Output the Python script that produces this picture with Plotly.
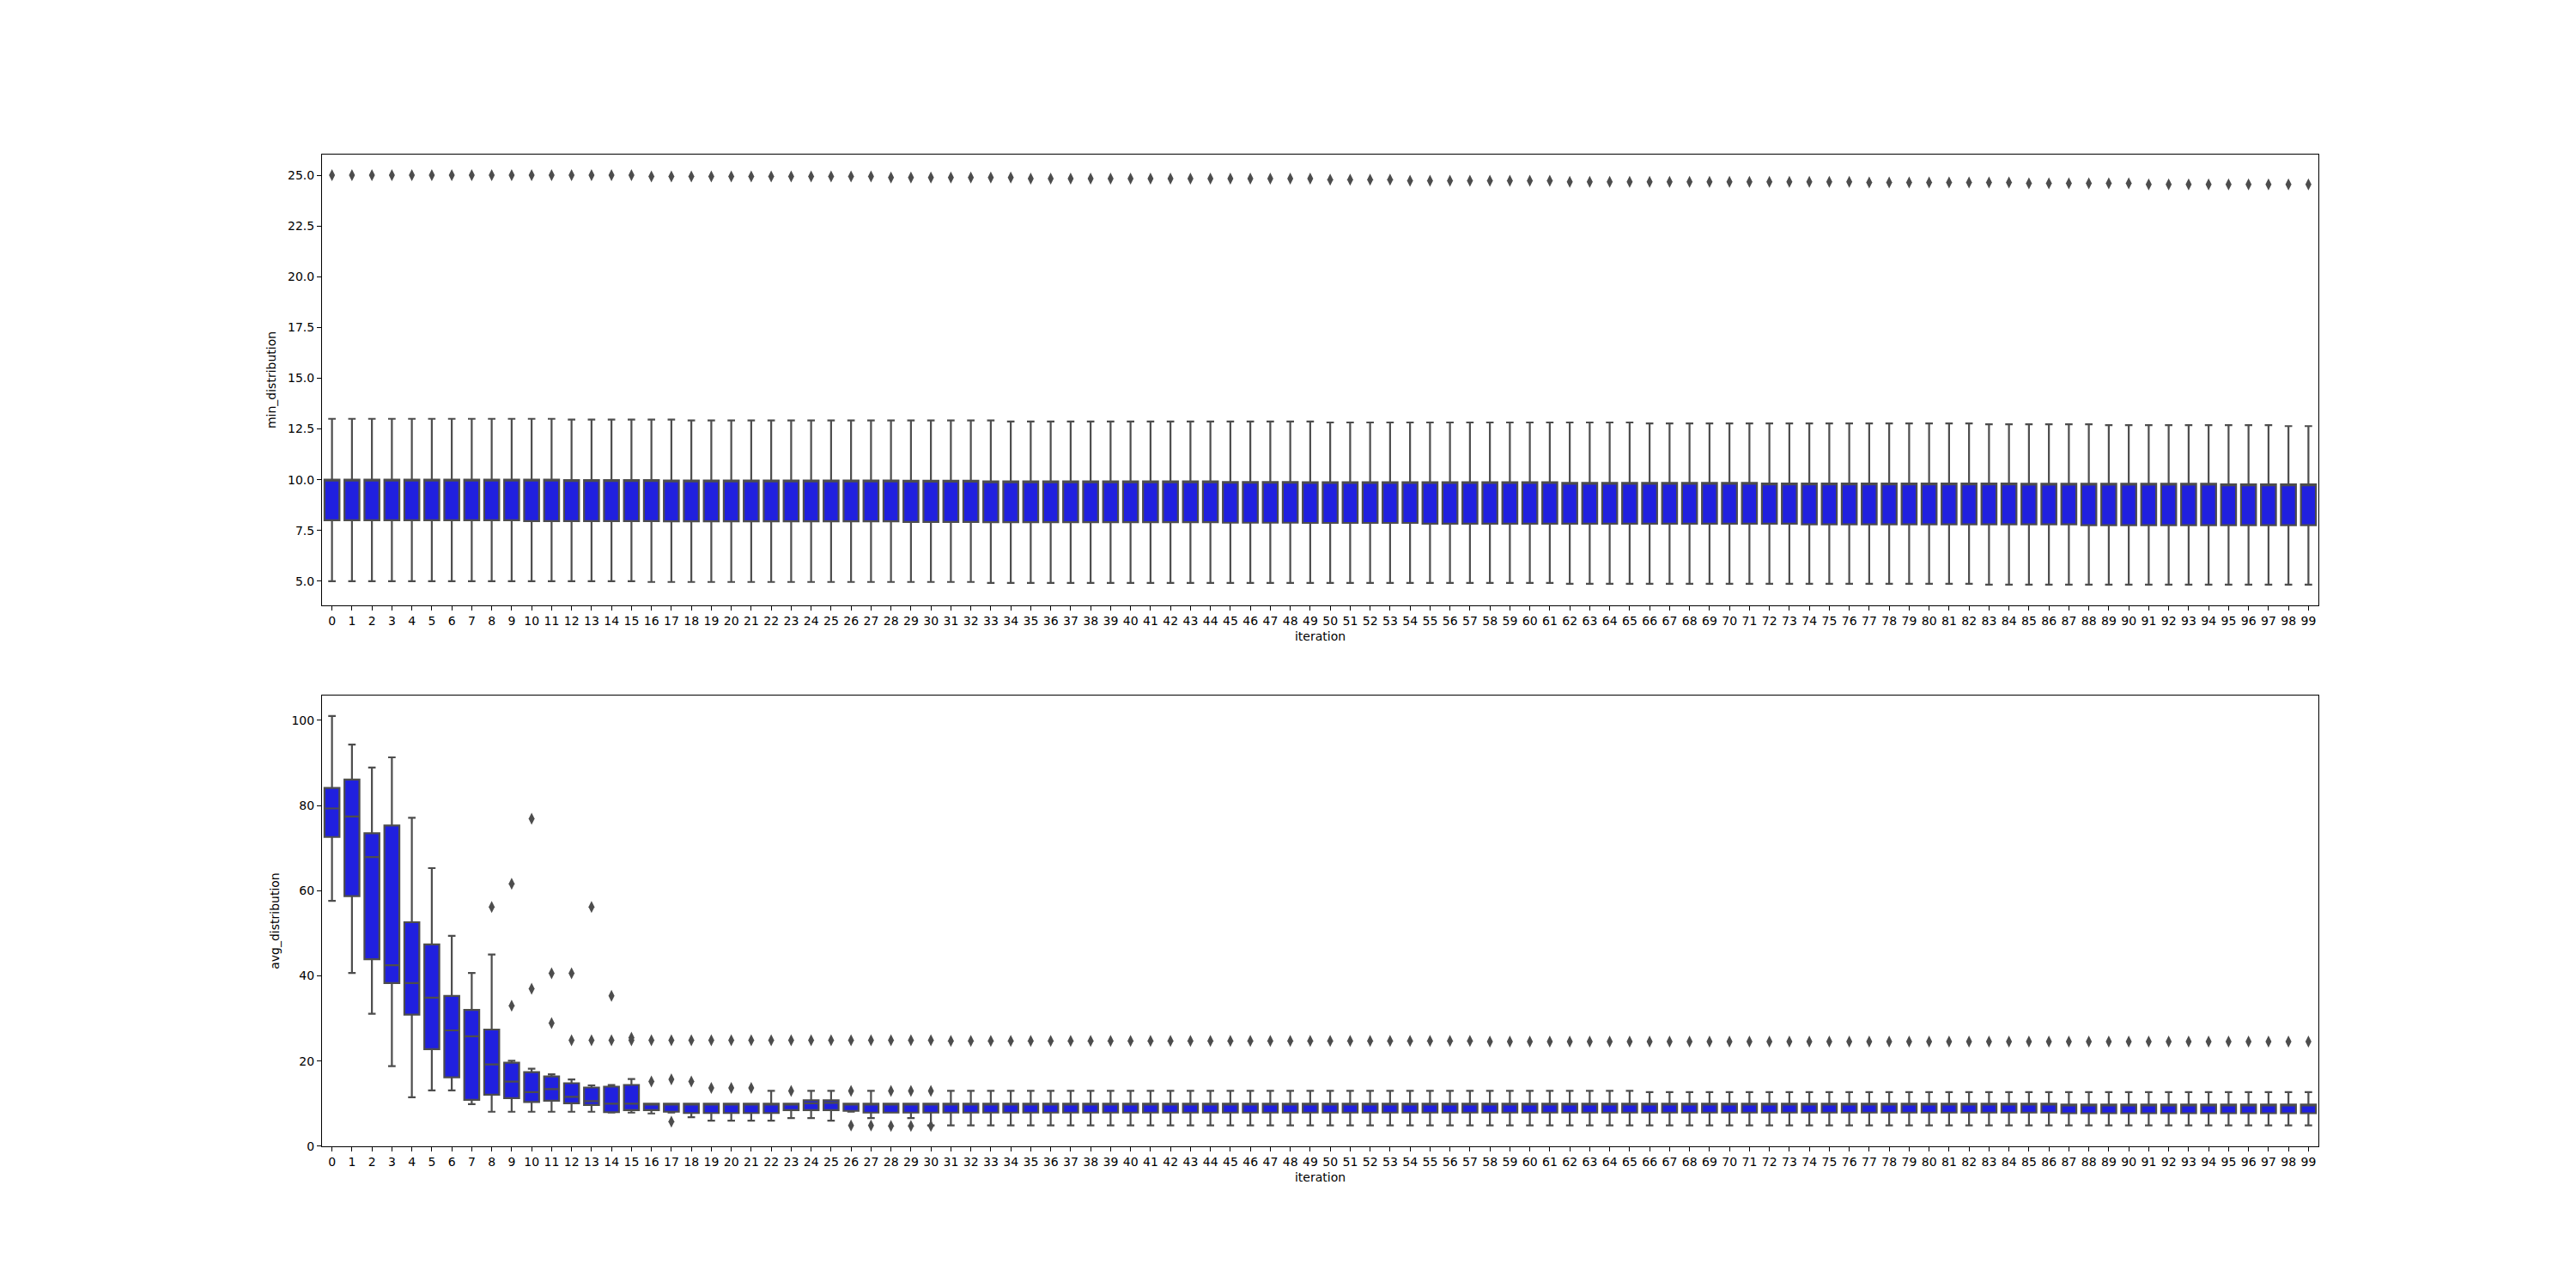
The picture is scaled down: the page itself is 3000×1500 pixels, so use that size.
import plotly.graph_objects as go

# ---------------- data ----------------
iterations = list(range(100))
tick_labels = [str(i) for i in iterations]

# top panel: min_distribution
min_q3 = [
    10.0, 10.0, 10.0, 10.0, 10.0, 10.0, 10.0, 10.0, 10.0, 10.0,
    10.0, 10.0, 9.98, 9.98, 9.98, 9.98, 9.98, 9.96, 9.96, 9.96,
    9.96, 9.96, 9.96, 9.96, 9.96, 9.96, 9.96, 9.96, 9.96, 9.95,
    9.95, 9.95, 9.95, 9.92, 9.92, 9.92, 9.92, 9.92, 9.92, 9.92,
    9.92, 9.92, 9.92, 9.92, 9.92, 9.89, 9.89, 9.89, 9.89, 9.88,
    9.88, 9.88, 9.88, 9.88, 9.88, 9.88, 9.88, 9.88, 9.88, 9.88,
    9.88, 9.88, 9.84, 9.84, 9.84, 9.84, 9.84, 9.84, 9.84, 9.84,
    9.84, 9.84, 9.81, 9.81, 9.81, 9.81, 9.81, 9.81, 9.81, 9.81,
    9.81, 9.81, 9.81, 9.81, 9.81, 9.80, 9.80, 9.80, 9.80, 9.80,
    9.80, 9.80, 9.80, 9.80, 9.80, 9.77, 9.77, 9.77, 9.77, 9.77,
]
min_median = list(min_q3)
min_q1 = [
    8.0, 8.0, 8.0, 8.0, 8.0, 8.0, 8.0, 8.0, 8.0, 8.0,
    7.96, 7.96, 7.96, 7.96, 7.96, 7.96, 7.96, 7.95, 7.95, 7.95,
    7.95, 7.95, 7.95, 7.95, 7.95, 7.95, 7.95, 7.95, 7.95, 7.92,
    7.92, 7.92, 7.92, 7.91, 7.91, 7.91, 7.91, 7.91, 7.91, 7.91,
    7.91, 7.91, 7.91, 7.91, 7.91, 7.88, 7.88, 7.88, 7.88, 7.87,
    7.87, 7.87, 7.87, 7.87, 7.87, 7.83, 7.83, 7.83, 7.83, 7.83,
    7.83, 7.83, 7.83, 7.83, 7.83, 7.83, 7.83, 7.83, 7.83, 7.83,
    7.83, 7.83, 7.83, 7.83, 7.80, 7.80, 7.80, 7.80, 7.80, 7.80,
    7.80, 7.80, 7.80, 7.80, 7.80, 7.80, 7.80, 7.80, 7.76, 7.76,
    7.76, 7.76, 7.76, 7.76, 7.76, 7.76, 7.76, 7.76, 7.76, 7.76,
]
min_low = [
    5.0, 5.0, 5.0, 5.0, 5.0, 5.0, 5.0, 5.0, 5.0, 5.0,
    5.0, 5.0, 5.0, 5.0, 5.0, 5.0, 4.96, 4.96, 4.96, 4.96,
    4.96, 4.96, 4.96, 4.96, 4.96, 4.96, 4.96, 4.96, 4.96, 4.96,
    4.96, 4.96, 4.96, 4.91, 4.91, 4.91, 4.91, 4.91, 4.91, 4.91,
    4.91, 4.91, 4.91, 4.91, 4.91, 4.91, 4.91, 4.91, 4.91, 4.91,
    4.91, 4.91, 4.91, 4.91, 4.91, 4.91, 4.91, 4.91, 4.91, 4.91,
    4.91, 4.91, 4.87, 4.87, 4.87, 4.87, 4.87, 4.87, 4.87, 4.87,
    4.87, 4.87, 4.87, 4.87, 4.87, 4.87, 4.87, 4.87, 4.87, 4.87,
    4.87, 4.87, 4.87, 4.83, 4.83, 4.83, 4.83, 4.83, 4.83, 4.83,
    4.83, 4.83, 4.83, 4.83, 4.83, 4.83, 4.83, 4.83, 4.83, 4.83,
]
min_high = [
    13.0, 13.0, 13.0, 13.0, 13.0, 13.0, 13.0, 13.0, 13.0, 13.0,
    13.0, 13.0, 12.96, 12.96, 12.96, 12.96, 12.96, 12.96, 12.92, 12.92,
    12.92, 12.92, 12.92, 12.92, 12.92, 12.92, 12.92, 12.92, 12.92, 12.92,
    12.92, 12.92, 12.92, 12.92, 12.87, 12.87, 12.87, 12.87, 12.87, 12.87,
    12.87, 12.87, 12.87, 12.87, 12.87, 12.87, 12.87, 12.87, 12.87, 12.87,
    12.82, 12.82, 12.82, 12.82, 12.82, 12.82, 12.82, 12.82, 12.82, 12.82,
    12.82, 12.82, 12.82, 12.82, 12.82, 12.82, 12.77, 12.77, 12.77, 12.77,
    12.77, 12.77, 12.77, 12.77, 12.77, 12.77, 12.77, 12.77, 12.77, 12.77,
    12.77, 12.77, 12.77, 12.73, 12.73, 12.73, 12.73, 12.73, 12.73, 12.69,
    12.69, 12.69, 12.69, 12.69, 12.69, 12.69, 12.69, 12.69, 12.64, 12.64,
]
min_outlier = [
    25.0, 25.0, 25.0, 25.0, 25.0, 25.0, 25.0, 25.0, 25.0, 25.0,
    25.0, 25.0, 25.0, 25.0, 25.0, 25.0, 24.94, 24.94, 24.94, 24.94,
    24.94, 24.94, 24.94, 24.94, 24.94, 24.94, 24.94, 24.94, 24.89, 24.89,
    24.89, 24.89, 24.89, 24.89, 24.89, 24.84, 24.84, 24.84, 24.84, 24.84,
    24.84, 24.84, 24.84, 24.84, 24.84, 24.84, 24.84, 24.84, 24.84, 24.84,
    24.78, 24.78, 24.78, 24.78, 24.73, 24.73, 24.73, 24.73, 24.73, 24.73,
    24.73, 24.73, 24.68, 24.68, 24.68, 24.68, 24.68, 24.68, 24.68, 24.68,
    24.68, 24.68, 24.68, 24.68, 24.68, 24.68, 24.68, 24.64, 24.64, 24.64,
    24.64, 24.64, 24.64, 24.64, 24.64, 24.6, 24.6, 24.6, 24.6, 24.6,
    24.6, 24.55, 24.55, 24.55, 24.55, 24.55, 24.55, 24.55, 24.55, 24.55,
]

# bottom panel: avg_distribution
avg_high = [
    101.0, 94.3, 88.9, 91.3, 77.1, 65.3, 49.4, 40.7, 45.0, 20.1,
    18.2, 16.9, 15.7, 14.3, 14.4, 15.8, 10.0, 10.0, 10.0, 10.0,
    10.0, 10.0, 13.0, 10.0, 13.0, 13.0, 10.0, 13.0, 10.0, 10.0,
    10.0, 13.0, 13.0, 13.0, 13.0, 13.0, 13.0, 13.0, 13.0, 13.0,
    13.0, 13.0, 13.0, 13.0, 13.0, 13.0, 13.0, 13.0, 13.0, 13.0,
    13.0, 13.0, 13.0, 13.0, 13.0, 13.0, 13.0, 13.0, 13.0, 13.0,
    13.0, 13.0, 13.0, 13.0, 13.0, 13.0, 12.7, 12.7, 12.7, 12.7,
    12.7, 12.7, 12.7, 12.7, 12.7, 12.7, 12.7, 12.7, 12.7, 12.7,
    12.7, 12.7, 12.7, 12.7, 12.7, 12.7, 12.7, 12.7, 12.7, 12.7,
    12.7, 12.7, 12.7, 12.7, 12.7, 12.7, 12.7, 12.7, 12.7, 12.7,
]
avg_q3 = [
    84.1, 86.1, 73.5, 75.3, 52.6, 47.4, 35.3, 32.0, 27.4, 19.6,
    17.4, 16.4, 14.8, 13.8, 14.0, 14.4, 10.0, 10.0, 10.0, 10.0,
    10.0, 10.0, 10.0, 10.0, 10.8, 10.8, 10.0, 10.0, 10.0, 10.0,
    10.0, 10.0, 10.0, 10.0, 10.0, 10.0, 10.0, 10.0, 10.0, 10.0,
    10.0, 10.0, 10.0, 10.0, 10.0, 10.0, 10.0, 10.0, 10.0, 10.0,
    10.0, 10.0, 10.0, 10.0, 10.0, 10.0, 10.0, 10.0, 10.0, 10.0,
    10.0, 10.0, 10.0, 10.0, 10.0, 10.0, 10.0, 10.0, 10.0, 10.0,
    10.0, 10.0, 10.0, 10.0, 10.0, 10.0, 10.0, 10.0, 10.0, 10.0,
    10.0, 10.0, 10.0, 10.0, 10.0, 10.0, 10.0, 9.8, 9.8, 9.8,
    9.8, 9.8, 9.8, 9.8, 9.8, 9.8, 9.8, 9.8, 9.8, 9.8,
]
avg_median = [
    79.3, 77.4, 67.9, 42.5, 38.3, 34.9, 27.2, 25.8, 19.2, 15.2,
    12.7, 13.4, 11.6, 10.6, 10.0, 10.0, 10.0, 10.0, 10.0, 10.0,
    10.0, 10.0, 10.0, 10.0, 10.1, 10.2, 10.0, 10.0, 10.0, 10.0,
    10.0, 10.0, 10.0, 10.0, 10.0, 10.0, 10.0, 10.0, 10.0, 10.0,
    10.0, 10.0, 10.0, 10.0, 10.0, 10.0, 10.0, 10.0, 10.0, 10.0,
    10.0, 10.0, 10.0, 10.0, 10.0, 10.0, 10.0, 10.0, 10.0, 10.0,
    10.0, 10.0, 10.0, 10.0, 10.0, 10.0, 10.0, 10.0, 10.0, 10.0,
    10.0, 10.0, 10.0, 10.0, 10.0, 10.0, 10.0, 10.0, 10.0, 10.0,
    10.0, 10.0, 10.0, 10.0, 10.0, 10.0, 10.0, 9.8, 9.8, 9.8,
    9.8, 9.8, 9.8, 9.8, 9.8, 9.8, 9.8, 9.8, 9.8, 9.8,
]
avg_q1 = [
    72.6, 58.7, 43.9, 38.3, 30.9, 22.8, 16.2, 10.9, 12.1, 11.3,
    10.4, 10.7, 10.1, 9.7, 8.0, 8.5, 8.5, 8.1, 7.8, 7.8,
    7.8, 7.8, 7.8, 8.5, 8.5, 8.5, 8.3, 7.9, 7.9, 7.9,
    7.9, 7.9, 7.9, 7.9, 7.9, 7.9, 7.9, 7.9, 7.9, 7.9,
    7.9, 7.9, 7.9, 7.9, 7.9, 7.9, 7.9, 7.9, 7.9, 7.9,
    7.9, 7.9, 7.9, 7.9, 7.9, 7.9, 7.9, 7.9, 7.9, 7.9,
    7.9, 7.9, 7.9, 7.9, 7.9, 7.9, 7.9, 7.9, 7.9, 7.9,
    7.9, 7.9, 7.9, 7.9, 7.9, 7.9, 7.9, 7.9, 7.9, 7.9,
    7.9, 7.9, 7.9, 7.9, 7.9, 7.9, 7.9, 7.75, 7.75, 7.75,
    7.75, 7.75, 7.75, 7.75, 7.75, 7.75, 7.75, 7.75, 7.75, 7.75,
]
avg_low = [
    57.6, 40.7, 31.1, 18.8, 11.5, 13.1, 13.1, 9.9, 8.1, 8.1,
    8.1, 8.1, 8.1, 8.1, 7.9, 7.9, 7.7, 7.9, 6.8, 6.0,
    6.0, 6.0, 6.0, 6.6, 6.6, 6.0, 8.1, 6.6, 7.9, 6.6,
    4.9, 4.9, 4.9, 4.9, 4.9, 4.9, 4.9, 4.9, 4.9, 4.9,
    4.9, 4.9, 4.9, 4.9, 4.9, 4.9, 4.9, 4.9, 4.9, 4.9,
    4.9, 4.9, 4.9, 4.9, 4.9, 4.9, 4.9, 4.9, 4.9, 4.9,
    4.9, 4.9, 4.9, 4.9, 4.9, 4.9, 4.9, 4.9, 4.9, 4.9,
    4.9, 4.9, 4.9, 4.9, 4.9, 4.9, 4.9, 4.9, 4.9, 4.9,
    4.9, 4.9, 4.9, 4.9, 4.9, 4.9, 4.9, 4.9, 4.9, 4.9,
    4.9, 4.9, 4.9, 4.9, 4.9, 4.9, 4.9, 4.9, 4.9, 4.9,
]

# bottom panel outliers, early iterations
avg_out_iter = [8, 9, 9, 10, 10, 11, 11, 12, 12, 13, 13, 14, 14, 15, 15,
                16, 16, 17, 17, 17, 18, 18, 19, 19, 20, 20, 21, 21, 22,
                23, 23, 24, 25, 26, 26, 26, 27, 27, 28, 28, 28, 29, 29, 29,
                30, 30, 30]
avg_out_val = [56.2, 61.6, 33.0, 76.9, 37.0, 40.6, 28.9, 40.6, 24.9, 56.2, 24.9,
               35.3, 24.9, 25.5, 24.9,
               15.2, 24.9, 15.7, 24.9, 5.8, 15.2, 24.9, 13.7, 24.9, 13.7, 24.9,
               13.7, 24.9, 24.9,
               13.0, 24.9, 24.9, 24.9, 13.0, 24.9, 4.9, 24.9, 4.9, 13.0, 24.9, 4.8,
               13.0, 24.9, 4.8, 13.0, 24.9, 4.8]
# bottom panel outliers, iterations 31..99 (one each)
avg_tail_iter = list(range(31, 100))
avg_tail_val = [
    24.75, 24.75, 24.75, 24.75, 24.75, 24.75, 24.75, 24.75, 24.75,
    24.75, 24.75, 24.75, 24.75, 24.75, 24.75, 24.75, 24.75, 24.75, 24.75,
    24.75, 24.75, 24.75, 24.75, 24.75, 24.75, 24.75, 24.75, 24.6, 24.6,
    24.6, 24.6, 24.6, 24.6, 24.6, 24.6, 24.6, 24.6, 24.6, 24.6,
    24.6, 24.6, 24.6, 24.6, 24.6, 24.6, 24.6, 24.6, 24.6, 24.6,
    24.6, 24.6, 24.6, 24.6, 24.6, 24.6, 24.6, 24.6, 24.6, 24.6,
    24.6, 24.6, 24.6, 24.6, 24.6, 24.6, 24.6, 24.6, 24.6, 24.6,
]

min_yticks = [5.0, 7.5, 10.0, 12.5, 15.0, 17.5, 20.0, 22.5, 25.0]
avg_yticks = [0, 20, 40, 60, 80, 100]

# ---------------- style ----------------
FILL = "#2020df"
EDGE = "#4d4d4d"
FONT = dict(family="DejaVu Sans", size=14, color="black")

fig = go.Figure()

def add_box(q1, med, q3, lo, hi, xa, ya):
    fig.add_trace(go.Box(
        x=iterations, q1=q1, median=med, q3=q3, lowerfence=lo, upperfence=hi,
        width=0.75, whiskerwidth=0.5, fillcolor=FILL,
        line=dict(color=EDGE, width=2.2), boxpoints=False,
        xaxis=xa, yaxis=ya, showlegend=False, hoverinfo="skip",
    ))

def add_outliers(xs, ys, xa, ya):
    fig.add_trace(go.Scatter(
        x=xs, y=ys, mode="markers", xaxis=xa, yaxis=ya, showlegend=False,
        marker=dict(symbol="diamond-tall", size=10, color=EDGE, line=dict(width=0)),
        hoverinfo="skip",
    ))

add_box(min_q1, min_median, min_q3, min_low, min_high, "x", "y")
add_outliers(iterations, min_outlier, "x", "y")
add_box(avg_q1, avg_median, avg_q3, avg_low, avg_high, "x2", "y2")
add_outliers(avg_out_iter, avg_out_val, "x2", "y2")
add_outliers(avg_tail_iter, avg_tail_val, "x2", "y2")

axis_common = dict(
    showline=True, mirror=True, linecolor="black", linewidth=1.1,
    ticks="outside", ticklen=5, tickwidth=1.1, tickcolor="black",
    showgrid=False, zeroline=False, tickfont=FONT,
)

xcommon = dict(axis_common, range=[-0.5, 99.5], tickmode="array",
               tickvals=iterations, ticktext=tick_labels)

fig.update_layout(
    width=3000, height=1500,
    margin=dict(l=375, r=300, t=180, b=165, pad=0),
    paper_bgcolor="white", plot_bgcolor="white",
    font=FONT,
    xaxis=dict(xcommon, anchor="y", domain=[0, 1],
               title=dict(text="iteration", font=FONT, standoff=6)),
    yaxis=dict(axis_common, anchor="x", domain=[0.5455, 1.0], range=[3.81, 26.02],
               tickmode="array", tickvals=min_yticks,
               ticktext=["%.1f" % v for v in min_yticks],
               title=dict(text="min_distribution", font=FONT, standoff=10)),
    xaxis2=dict(xcommon, anchor="y2", domain=[0, 1],
                title=dict(text="iteration", font=FONT, standoff=6)),
    yaxis2=dict(axis_common, anchor="x2", domain=[0.0, 0.4545], range=[-0.01, 105.8],
                tickmode="array", tickvals=avg_yticks,
                ticktext=[str(v) for v in avg_yticks],
                title=dict(text="avg_distribution", font=FONT, standoff=10)),
)

fig.write_html("out.html")
